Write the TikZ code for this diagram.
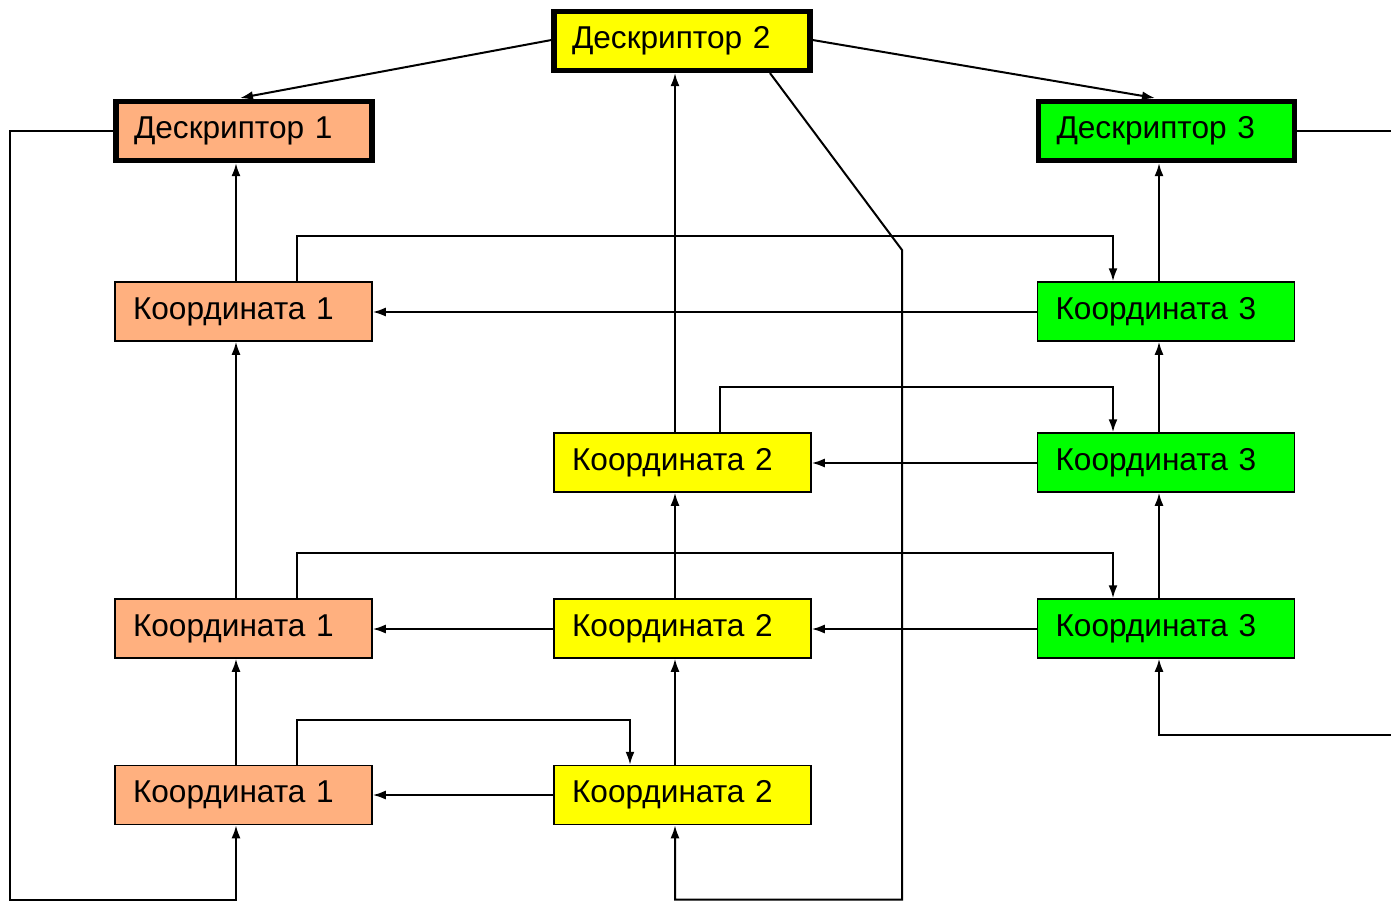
\documentclass[tikz,border=0pt]{standalone}
\usepackage{fontspec}
\setmainfont{Liberation Sans}
\usetikzlibrary{arrows.meta,calc}
\definecolor{orng}{HTML}{FFB07F}
\definecolor{yel}{HTML}{FFFF00}
\definecolor{grn}{HTML}{00FF00}
\tikzset{
  box/.style={draw=black, line width=0.75pt, rectangle, minimum width=128.5pt, minimum height=29.5pt,
    text width=110.5pt, inner xsep=9pt, align=left, font=\fontsize{15.8}{18}\selectfont, anchor=center},
  dbox/.style={box, line width=2.6pt, minimum height=29.5pt, minimum width=128pt, text width=110pt},
  arr/.style={line width=1pt, -{Latex[length=6.5pt,width=4.5pt]}},
  ln/.style={line width=1pt}
}
\begin{document}
\begin{tikzpicture}[x=0.5pt,y=-0.5pt]
\useasboundingbox (0,0) rectangle (1391,901);
% descriptors
\node[dbox, fill=yel]  (D2) at (682,41) {Дескриптор 2};
\node[dbox, fill=orng] (D1) at (244,131) {Дескриптор 1};
\node[dbox, fill=grn]  (D3) at (1166.5,131) {Дескриптор 3};
% coordinates
\node[box, fill=orng] (K1a) at (243.5,311.5) {Координата 1};
\node[box, fill=grn]  (K3a) at (1166,311.5) {Координата 3};
\node[box, fill=yel]  (K2b) at (682.5,462.5) {Координата 2};
\node[box, fill=grn]  (K3b) at (1166,462.5) {Координата 3};
\node[box, fill=orng] (K1c) at (243.5,628.5) {Координата 1};
\node[box, fill=yel]  (K2c) at (682.5,628.5) {Координата 2};
\node[box, fill=grn]  (K3c) at (1166,628.5) {Координата 3};
\node[box, fill=orng] (K1d) at (243.5,795) {Координата 1};
\node[box, fill=yel]  (K2d) at (682.5,795) {Координата 2};
% column / helper coordinates
\coordinate (c236) at (236,0);
\coordinate (c297) at (297,0);
\coordinate (c630) at (630,0);
\coordinate (c675) at (675,0);
\coordinate (c720) at (720,0);
\coordinate (c770) at (770,0);
\coordinate (c1113) at (1113,0);
\coordinate (c1159) at (1159,0);
\coordinate (rE) at (1391,131);
\coordinate (rE2) at (1391,735);
% descriptor links
\draw[arr] (D2.west |- 0,40) -- (240,98);
\draw[arr] (D2.east |- 0,40) -- (1155,98);
\draw[arr] (D2.south -| c770) -- (902,250) -- (902,899.5) -- (675,899.5) -- (K2d.south -| c675);
\draw[arr] (D1.west) -- (10,131) -- (10,899.5) -- (236,899.5) -- (K1d.south -| c236);
\draw[ln] (D3.east) -- (rE);
\draw[arr] (rE2) -- (1159,735) -- (K3c.south -| c1159);
% vertical links
\draw[arr] (K1a.north -| c236) -- (D1.south -| c236);
\draw[arr] (K3a.north -| c1159) -- (D3.south -| c1159);
\draw[arr] (K2b.north -| c675) -- (D2.south -| c675);
\draw[arr] (K3b.north -| c1159) -- (K3a.south -| c1159);
\draw[arr] (K1c.north -| c236) -- (K1a.south -| c236);
\draw[arr] (K2c.north -| c675) -- (K2b.south -| c675);
\draw[arr] (K3c.north -| c1159) -- (K3b.south -| c1159);
\draw[arr] (K1d.north -| c236) -- (K1c.south -| c236);
\draw[arr] (K2d.north -| c675) -- (K2c.south -| c675);
% horizontal links
\draw[arr] (K3a.west |- 0,312) -- (K1a.east |- 0,312);
\draw[arr] (K3b.west |- 0,463) -- (K2b.east |- 0,463);
\draw[arr] (K2c.west |- 0,629) -- (K1c.east |- 0,629);
\draw[arr] (K3c.west |- 0,629) -- (K2c.east |- 0,629);
\draw[arr] (K2d.west |- 0,795) -- (K1d.east |- 0,795);
% over-links
\draw[arr] (K1a.north -| c297) -- (297,236) -- (1113,236) -- (K3a.north -| c1113);
\draw[arr] (K2b.north -| c720) -- (720,387) -- (1113,387) -- (K3b.north -| c1113);
\draw[arr] (K1c.north -| c297) -- (297,553) -- (1113,553) -- (K3c.north -| c1113);
\draw[arr] (K1d.north -| c297) -- (297,720) -- (630,720) -- (K2d.north -| c630);
\end{tikzpicture}
\end{document}
